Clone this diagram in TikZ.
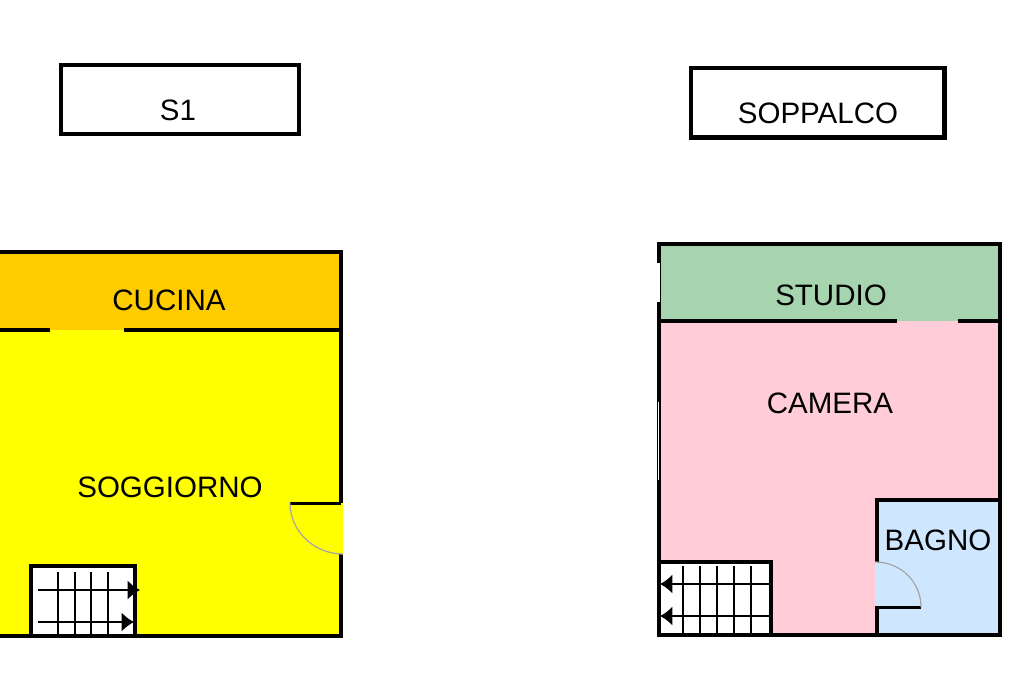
\documentclass[tikz,border=0pt]{standalone}
\usepackage{fontspec}
\setmainfont{Liberation Sans}
\usetikzlibrary{arrows.meta}
\tikzset{every path/.style={black}, wall/.style={line width=2.7pt,line cap=rect}, thinwall/.style={line width=1.7pt},
  tread/.style={line width=1.25pt}, swing/.style={gray!70,line width=0.7pt},
  stairtip/.style={-{Latex[length=7pt,width=11pt]}},
  title/.style={draw,line width=2.5pt,fill=white,inner sep=0pt},
  room/.style={inner sep=0pt,font=\fontsize{16.8}{17}\selectfont}}
\definecolor{kitchen}{HTML}{FFCC00}
\definecolor{living}{HTML}{FFFF00}
\definecolor{study}{HTML}{A5D4AE}
\definecolor{bedroom}{HTML}{FFCCD8}
\definecolor{bath}{HTML}{CFE6FF}

\begin{document}
\begin{tikzpicture}[x=0.02cm,y=-0.02cm]
   \useasboundingbox (0,0) rectangle (1024,683);
   \begin{scope}
    \fill[kitchen] (0,252) rectangle (341,330);
    \fill[living]  (0,330) rectangle (343,636);
    \fill[white]   (31,566) rectangle (135,636);
    \draw[wall] (0,252) -- (341,252) -- (341,501);
    \draw[wall] (341,556) -- (341,636) -- (0,636);
    \draw[wall] (0,330) -- (48,330);
    \draw[wall] (126,330) -- (341,330);
    \draw[thinwall] (290,503) -- (341,503);
    \draw[swing] (290,503) .. controls (290,531) and (314,554) .. (343,554);
    \draw[tread] ( 58,572) -- ( 58,636);
    \draw[tread] ( 75,572) -- ( 75,636);
    \draw[tread] ( 91,572) -- ( 91,636);
    \draw[tread] (108,572) -- (108,636);
    \draw[wall] (31,636) -- (31,566) -- (135,566) -- (135,636);
    \draw[tread,stairtip] (38,590) -- (140,590);
    \draw[tread,stairtip] (38,622) -- (134,622);
    \node[room] (cucina) at (169,300) {CUCINA};
    \node[room] (soggiorno) at (170,487) {SOGGIORNO};
    \node[title,minimum width=4.76cm,minimum height=1.38cm] (s1) at (180,99.5) {};
    \node[room] (s1label) at (178,110.5) {S1};
   \end{scope}
   \begin{scope}
    \fill[study]   (659,244) rectangle (1000,321);
    \fill[bedroom] (659,321) rectangle (1000,635);
    \fill[bath]    (875,500) rectangle (1000,635);
    \fill[white]   (659,562) rectangle (771,635);
    \draw[wall] (659,244) rectangle (1000,635);
    \draw[wall] (659,321) -- (895,321);
    \draw[wall] (960,321) -- (1000,321);
    \draw[wall] (1000,500) -- (877,500) -- (877,560);
    \draw[wall] (877,609) -- (877,635);
    \draw[thinwall] (875,607) -- (921,607);
    \draw[swing] (875,562) .. controls (901,562) and (921,582) .. (921,607);
    \draw[white,line width=1.6pt] (658.5,263) -- (658.5,302);
    \draw[white,line width=0.9pt] (658.5,402) -- (658.5,480);
    \draw[tread] (683,566) -- (683,635);
    \draw[tread] (700,566) -- (700,635);
    \draw[tread] (717,566) -- (717,635);
    \draw[tread] (734,566) -- (734,635);
    \draw[tread] (751,566) -- (751,635);
    \draw[wall] (659,562) -- (771,562) -- (771,635);
    \draw[tread,stairtip] (771,584) -- (660,584);
    \draw[tread,stairtip] (771,616) -- (660,616);
    \node[room] (studio) at (831,295) {STUDIO};
    \node[room] (camera) at (830,403) {CAMERA};
    \node[room] (bagno) at (938,540) {BAGNO};
    \node[title,minimum width=5.07cm,minimum height=1.39cm] (soppalco) at (817.7,102.8) {};
    \node[room] (soppalcolabel) at (818,113) {SOPPALCO};
   \end{scope}
\end{tikzpicture}
\end{document}
